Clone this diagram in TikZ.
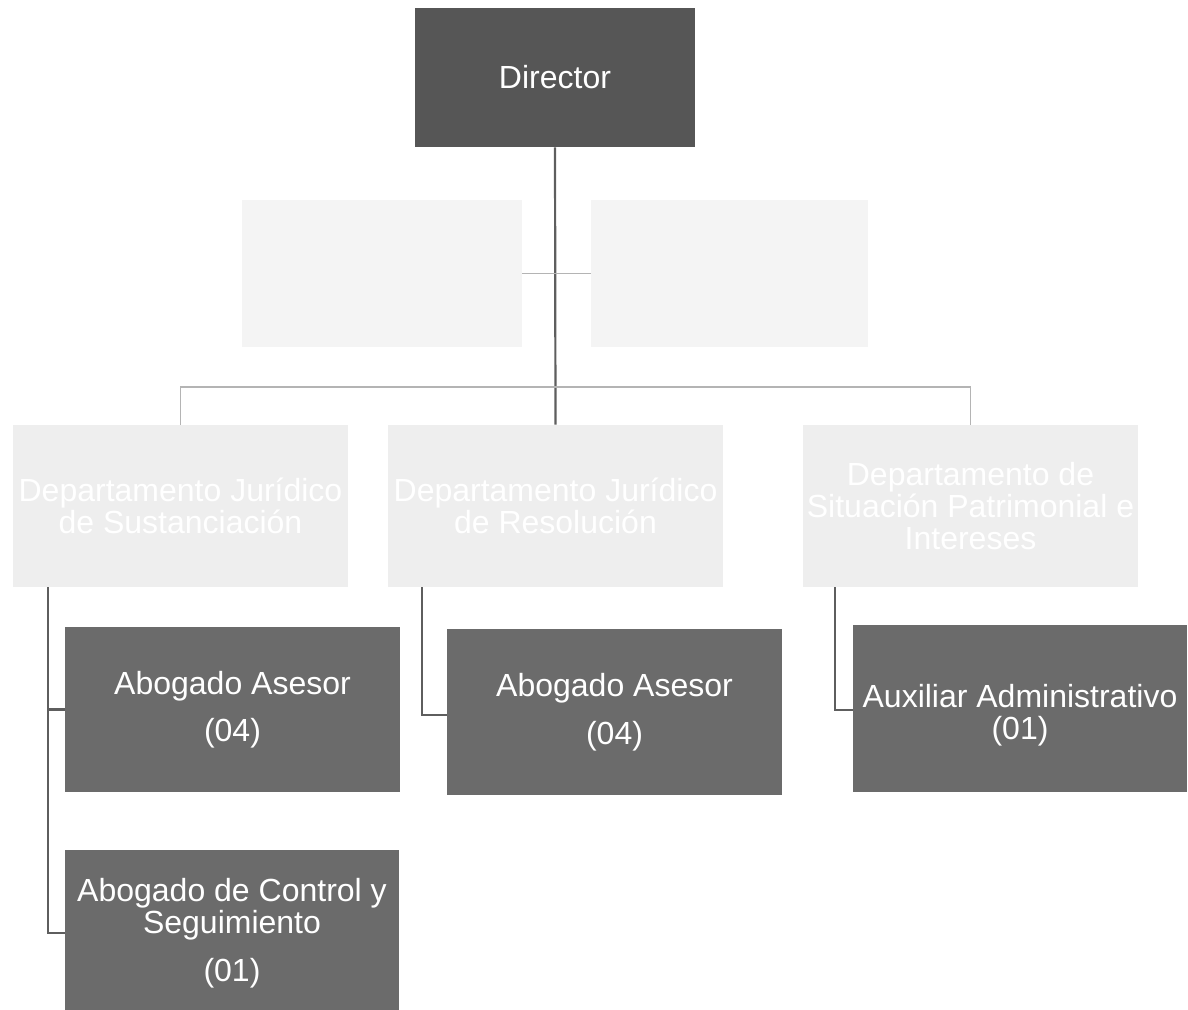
\documentclass[tikz,border=0pt]{standalone}
\usepackage{fontspec}
\setmainfont{Liberation Sans}
\definecolor{dirgray}{HTML}{565656}
\definecolor{darkgray}{HTML}{6B6B6B}
\definecolor{deptgray}{HTML}{EEEEEE}
\definecolor{faintgray}{HTML}{F4F4F4}
\definecolor{linegray}{HTML}{5E5E5E}
\definecolor{busgray}{HTML}{B4B4B4}
\begin{document}
\begin{tikzpicture}[x=0.5pt,y=-0.5pt,
  box/.style={rectangle, inner sep=0pt, align=center, text=white,
    font=\fontsize{16}{16}\selectfont},
  dirbox/.style={box, fill=dirgray},
  darkbox/.style={box, fill=darkgray},
  deptbox/.style={box, fill=deptgray},
  faintbox/.style={box, fill=faintgray},
  conn/.style={draw=linegray, line width=1.1pt},
  busline/.style={draw=busgray, line width=0.9pt}
]
\useasboundingbox (0,0) rectangle (1188,1010);

\node[dirbox, minimum width=140pt, minimum height=69.5pt] (dir) at (555,77.5) {Director};

\node[faintbox, minimum width=140pt, minimum height=73.5pt] (as1) at (382,273.5) {};
\node[faintbox, minimum width=138.5pt, minimum height=73.5pt] (as2) at (729.5,273.5) {};

\node[deptbox, minimum width=167.5pt, minimum height=81pt] (dep1) at (180.5,506)
  {Departamento Jurídico\\de Sustanciación};
\node[deptbox, minimum width=167.5pt, minimum height=81pt] (dep2) at (555.5,506)
  {Departamento Jurídico\\de Resolución};
\node[deptbox, minimum width=167.5pt, minimum height=81pt] (dep3) at (970.5,506)
  {Departamento de\\Situación Patrimonial e\\Intereses};

\node[darkbox, minimum width=167.5pt, minimum height=82.5pt] (ab1) at (232.5,709.5)
  {Abogado Asesor\\[7.5pt](04)};
\node[darkbox, minimum width=167pt, minimum height=83pt] (ab2) at (232,933)
  {Abogado de Control y\\Seguimiento\\[8pt](01)};
\node[darkbox, minimum width=167.5pt, minimum height=83pt] (ab3) at (614.5,712)
  {Abogado Asesor\\[8pt](04)};
\node[darkbox, minimum width=167pt, minimum height=83.5pt,
  label={[box, yshift=-3.5pt]center:{Auxiliar Administrativo\\(01)}}] (ab4) at (1020,708.5) {};

\coordinate (bus) at (555,387);

% main connectors
\draw[conn] (dir.south) -- (dep2.north);
\draw[busline] (as1.east) -- (as2.west);
\draw[busline] (dep1.north) |- (bus) -| (dep3.north);

% child connectors
\draw[conn] ([xshift=17.5pt]dep1.south west) |- (ab1.west);
\draw[conn] ([xshift=17.5pt]dep1.south west) |- (ab2.west);
\draw[conn] ([xshift=17pt]dep2.south west) |- ([yshift=-1.5pt]ab3.west);
\draw[conn] ([xshift=16pt]dep3.south west) |- ([yshift=-0.75pt]ab4.west);
\end{tikzpicture}
\end{document}
